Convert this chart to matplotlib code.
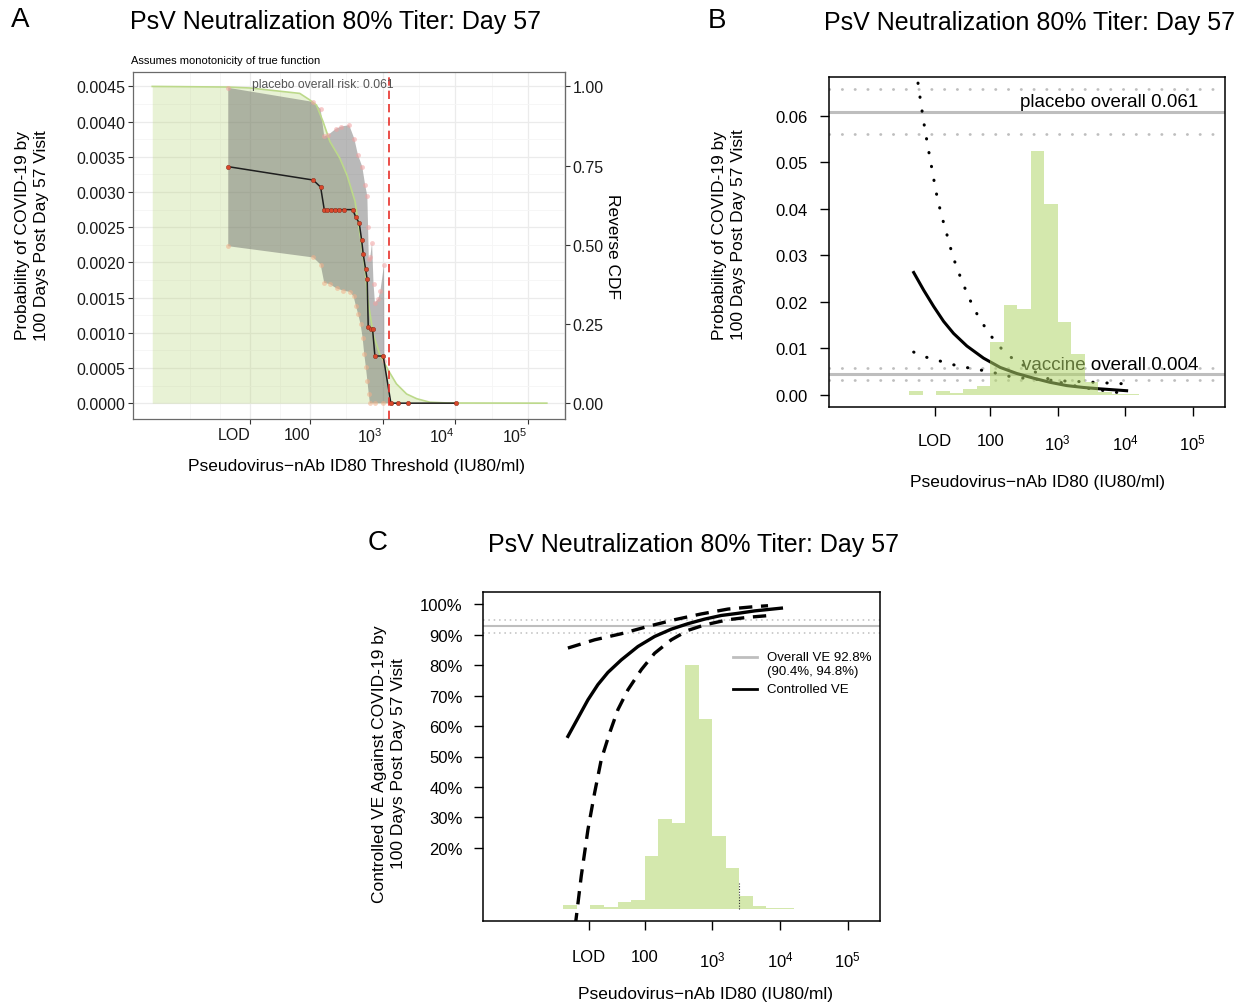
import numpy as np
import matplotlib
matplotlib.use('Agg')
import matplotlib.pyplot as plt

plt.rcParams['font.family'] = ['Liberation Sans', 'DejaVu Sans']
plt.rcParams['mathtext.fontset'] = 'custom'
plt.rcParams['mathtext.rm'] = 'Liberation Sans'
plt.rcParams['mathtext.it'] = 'Liberation Sans:italic'

# x values are log10 of the titer
lod = 1.177
tick_pos = [lod, 2, 3, 4, 5]
tick_lab = ['LOD', '100', r'$\mathregular{10^3}$', r'$\mathregular{10^4}$', r'$\mathregular{10^5}$']

# panel A: threshold risk curve
a_x = [0.876, 2.045, 2.147, 2.197, 2.238, 2.284, 2.344, 2.403, 2.468, 2.587, 2.633, 2.678,
       2.711, 2.733, 2.766, 2.788, 2.802, 2.835, 2.862, 2.894, 3.008, 3.114, 3.206, 3.344, 4.008]
a_risk = [0.00336, 0.00317, 0.00307, 0.00275, 0.00275, 0.00275, 0.00275, 0.00275, 0.00275,
          0.00275, 0.00264, 0.00256, 0.00232, 0.00212, 0.00190, 0.00176, 0.00108, 0.00105,
          0.00105, 0.00067, 0.00067, 0.0, 0.0, 0.0, 0.0]
a_up_x = [0.876, 2.045, 2.147, 2.197, 2.25, 2.36, 2.43, 2.54, 2.61, 2.66, 2.72, 2.76, 2.79,
          2.80, 2.81, 2.83, 2.855, 2.875, 2.894, 2.94, 2.97, 3.02, 3.025, 3.114]
a_up = [0.00448, 0.00428, 0.00418, 0.00379, 0.00381, 0.0039, 0.00393, 0.00395, 0.00376,
        0.00353, 0.00336, 0.0031, 0.00294, 0.0025, 0.00205, 0.00207, 0.00228, 0.0017,
        0.00143, 0.00148, 0.0016, 0.00197, 0.0006, 0.0]
a_lo_x = [0.876, 2.045, 2.147, 2.197, 2.275, 2.367, 2.458, 2.55, 2.60, 2.633, 2.665, 2.697,
          2.725, 2.747, 2.77, 2.79, 2.81, 2.825, 2.9, 3.0, 3.114]
a_lo = [0.00223, 0.00207, 0.00197, 0.00171, 0.00169, 0.00163, 0.0016, 0.00158, 0.00152,
        0.00138, 0.00126, 0.00112, 0.00093, 0.0007, 0.00051, 0.00032, 0.00013, 0.0, 0.0,
        0.0, 0.0]
cdf_x = [-0.17, 0.876, 1.18, 1.86, 2.0, 2.09, 2.18, 2.275, 2.41, 2.51, 2.62, 2.69, 2.757,
         2.80, 2.87, 2.96, 3.08, 3.19, 3.33, 3.47, 3.65, 3.9, 5.26]
cdf_y = [1.0, 0.998, 0.995, 0.978, 0.957, 0.941, 0.889, 0.826, 0.774, 0.72, 0.638, 0.532,
         0.428, 0.323, 0.218, 0.155, 0.103, 0.061, 0.029, 0.014, 0.003, 0.0005, 0.0]
cdf_scale = 0.0045
a_cut = 3.09

# histogram of the vaccine marker (shares of the tallest bar)
hist_edges = [0.8, 1.0, 1.2, 1.4, 1.6, 1.8, 2.0, 2.2, 2.4, 2.6, 2.8, 3.0, 3.2, 3.4, 3.6,
              3.8, 4.0, 4.2]
hist_share = [0.016, 0.0, 0.016, 0.008, 0.026, 0.037, 0.217, 0.367, 0.352, 1.0, 0.78, 0.30,
              0.167, 0.052, 0.012, 0.005, 0.004]

# panel B: marginalized risk
b_fit_x = [0.867, 1.015, 1.163, 1.31, 1.458, 1.655, 1.901, 2.148, 2.394, 2.64, 2.887, 3.133,
           3.379, 3.626, 4.02]
b_fit = [0.0263, 0.0225, 0.019, 0.0158, 0.0132, 0.0105, 0.0079, 0.0059, 0.0046, 0.0036,
         0.0027, 0.002, 0.0016, 0.0013, 0.0009]
b_ci1_x = [0.867, 0.926, 0.975, 1.025, 1.079, 1.138, 1.197, 1.271, 1.36, 1.448, 1.557, 1.68,
           1.828, 1.926, 2.015, 2.163, 2.296, 2.429, 2.63, 2.88, 3.14, 3.4, 3.65, 3.94]
b_ci1 = [0.076, 0.0675, 0.0625, 0.0578, 0.0532, 0.0485, 0.0437, 0.039, 0.0344, 0.0297,
         0.0254, 0.021, 0.0167, 0.0145, 0.0126, 0.010, 0.0082, 0.0069, 0.0052, 0.0033,
         0.0023, 0.0015, 0.001, 0.0004]
b_ci2_x = [0.867, 1.025, 1.187, 1.36, 1.507, 1.68, 1.83, 2.0, 2.15, 2.34, 2.64, 2.84, 3.08,
           3.43, 3.67, 3.96]
b_ci2 = [0.0092, 0.0082, 0.0076, 0.0068, 0.0063, 0.0058, 0.0054, 0.005, 0.0044, 0.0038,
         0.0034, 0.0032, 0.003, 0.0028, 0.0026, 0.0024]
placebo = [0.0607, 0.0657, 0.0560]   # estimate, upper, lower
vaccine = [0.0045, 0.0058, 0.0031]

# panel C: controlled VE
c_fit_x = [0.867, 1.015, 1.163, 1.31, 1.458, 1.655, 1.901, 2.148, 2.394, 2.64, 2.887, 3.133,
           3.379, 3.626, 4.02]
c_fit = [0.566, 0.626, 0.686, 0.736, 0.776, 0.817, 0.861, 0.894, 0.918, 0.936, 0.951, 0.963,
         0.970, 0.978, 0.987]
c_hi_x = [0.867, 1.261, 1.655, 2.049, 2.443, 2.837, 3.232, 3.626, 3.823]
c_hi = [0.856, 0.883, 0.903, 0.927, 0.949, 0.968, 0.984, 0.992, 0.995]
c_lo_x = [0.975, 1.064, 1.163, 1.261, 1.36, 1.483, 1.606, 1.754, 1.951, 2.148, 2.394, 2.64,
          2.887, 3.232, 3.527, 3.798]
c_lo = [-0.057, 0.107, 0.26, 0.38, 0.49, 0.577, 0.654, 0.719, 0.785, 0.839, 0.883, 0.914,
        0.932, 0.949, 0.957, 0.962]
overall_ve = [0.928, 0.904, 0.948]
c_mark = 3.4

W, H = 1248, 1004
fig = plt.figure(figsize=(W / 100, H / 100), dpi=100)


def box(l, t, r, b):
    return [l / W, 1 - b / H, (r - l) / W, (b - t) / H]


def ftext(x, y, s, **kw):
    fig.text(x / W, 1 - y / H, s, va='center', **kw)


dots = (0, (0.1, 4.5))
grey = '#bebebe'
hist_col = '#b2d66a'

# ---------------- panel A ----------------
ax = fig.add_axes(box(133, 73, 565, 420))
ax.set_xlim(-0.435, 5.51)
ax.set_ylim(-0.000225, 0.004705)
ax.fill_between(cdf_x, 0, np.array(cdf_y) * cdf_scale, color='#b6d476', alpha=0.3, lw=0, zorder=1)
poly_x = list(a_up_x) + list(a_lo_x[::-1])
poly_y = list(a_up) + list(a_lo[::-1])
ax.fill(poly_x, poly_y, color='#5a5a5a', alpha=0.42, lw=0, zorder=2)
ax.plot(cdf_x, np.array(cdf_y) * cdf_scale, color='#bcd98a', lw=1.2, zorder=3)
ax.plot(a_up_x, a_up, 'o', color='#f2a0a0', alpha=0.55, ms=3.5, mec='none', zorder=3)
ax.plot(a_lo_x, a_lo, 'o', color='#f2b08a', alpha=0.55, ms=3.5, mec='none', zorder=3)
ax.plot(a_x, a_risk, color='#1e1e1e', lw=1.1, zorder=4)
ax.plot(a_x, a_risk, 'o', color='#d9472b', ms=3.2, mec='#7a2a1a', mew=0.3, zorder=5)
ax.axvline(a_cut, color='#e8302a', lw=1.2, ls=(0, (5, 3)), zorder=6)
ax.text(2.18, 0.00454, 'placebo overall risk: 0.061', ha='center', va='center',
        fontsize=8.7, color='#555555', zorder=7)

ax.set_xticks(tick_pos)
ax.set_xticklabels(tick_lab)
for lab in ax.get_xticklabels():
    lab.set_ha('right')
mids = [tick_pos[0] - (tick_pos[1] - tick_pos[0])]
for i in range(len(tick_pos) - 1):
    mids.append((tick_pos[i] + tick_pos[i + 1]) / 2)
mids.append(tick_pos[0] - (tick_pos[1] - tick_pos[0]) / 2)
mids.append(5.5)
ax.set_xticks(mids, minor=True)
yt = np.arange(0, 0.00451, 0.0005)
ax.set_yticks(yt)
ax.set_yticklabels(['%.4f' % v for v in yt])
ax.set_yticks(yt[:-1] + 0.00025, minor=True)
ax.grid(which='major', color='#ebebeb', lw=0.9, zorder=0)
ax.grid(which='minor', color='#f5f5f5', lw=0.6, zorder=0)
ax.set_axisbelow(True)
ax.tick_params(which='minor', length=0)
ax.tick_params(which='major', length=3.5, width=0.8, color='#333333', labelsize=11.5,
               labelcolor='#1a1a1a', pad=2)
for s in ax.spines.values():
    s.set_color('#6a6a6a')
    s.set_linewidth(0.9)
sec = ax.secondary_yaxis('right', functions=(lambda v: v / cdf_scale, lambda v: v * cdf_scale))
sec.set_yticks([0, 0.25, 0.5, 0.75, 1.0])
sec.set_yticklabels(['0.00', '0.25', '0.50', '0.75', '1.00'])
sec.tick_params(length=3.5, width=0.8, color='#333333', labelsize=11.5, labelcolor='#1a1a1a', pad=2)
sec.spines['right'].set_color('#6a6a6a')

ftext(20, 20, 'A', fontsize=20, ha='center')
ftext(336, 22, 'PsV Neutralization 80% Titer: Day 57', fontsize=18, ha='center')
ftext(131, 61, 'Assumes monotonicity of true function', fontsize=8, ha='left')
ftext(356, 466, 'Pseudovirus\u2212nAb ID80 Threshold (IU80/ml)', fontsize=12.5, ha='center')
ftext(32, 236, 'Probability of COVID-19 by\n100 Days Post Day 57 Visit', fontsize=12.5,
      ha='center', rotation=90, linespacing=1.4)
ftext(612, 246, 'Reverse CDF', fontsize=12.5, ha='center', rotation=270)

# ---------------- panel B ----------------
bx = fig.add_axes(box(829, 78, 1225, 408))
bx.set_xlim(-0.387, 5.477)
bx.set_ylim(-0.0026, 0.0683)
for lvl in [placebo, vaccine]:
    bx.axhline(lvl[0], color=grey, lw=2.2, zorder=1)
    bx.axhline(lvl[1], color=grey, lw=2, ls=dots, dash_capstyle='round', zorder=1)
    bx.axhline(lvl[2], color=grey, lw=2, ls=dots, dash_capstyle='round', zorder=1)
bx.text(5.08, 0.0612, 'placebo overall 0.061', ha='right', va='bottom', fontsize=13.5, zorder=2)
bx.text(5.08, 0.0047, 'vaccine overall 0.004', ha='right', va='bottom', fontsize=13.5, zorder=2)
bx.plot(b_fit_x, b_fit, color='black', lw=2.2, zorder=3)
bx.plot(b_ci1_x, b_ci1, color='black', lw=2.2, ls=dots, dash_capstyle='round', zorder=3)
bx.plot(b_ci2_x, b_ci2, color='black', lw=2.2, ls=dots, dash_capstyle='round', zorder=3)
bx.bar(hist_edges[:-1], np.array(hist_share) * 0.0525, width=np.diff(hist_edges), align='edge',
       color=hist_col, alpha=0.55, lw=0, zorder=4)
bx.set_xticks(tick_pos)
bx.set_xticklabels(tick_lab)
bx.set_yticks([0, 0.01, 0.02, 0.03, 0.04, 0.05, 0.06])
bx.set_yticklabels(['0.00', '0.01', '0.02', '0.03', '0.04', '0.05', '0.06'])
bx.tick_params(axis='x', length=6.5, width=1, labelsize=12, pad=12)
bx.tick_params(axis='y', length=6.5, width=1, labelsize=12, pad=9)
for s in bx.spines.values():
    s.set_linewidth(1.1)

ftext(717, 21, 'B', fontsize=20, ha='center')
ftext(1030, 23, 'PsV Neutralization 80% Titer: Day 57', fontsize=18, ha='center')
ftext(1038, 483, 'Pseudovirus\u2212nAb ID80 (IU80/ml)', fontsize=12.5, ha='center')
ftext(729, 235, 'Probability of COVID-19 by\n100 Days Post Day 57 Visit', fontsize=12.5,
      ha='center', rotation=90, linespacing=1.4)

# ---------------- panel C ----------------
cx = fig.add_axes(box(483, 593, 880, 922))
cx.set_xlim(-0.387, 5.477)
cx.set_ylim(-0.04, 1.04)
cx.axhline(overall_ve[0], color=grey, lw=1.5, zorder=1)
cx.axhline(overall_ve[1], color=grey, lw=1.1, ls=(0, (1, 2.5)), zorder=1)
cx.axhline(overall_ve[2], color=grey, lw=1.1, ls=(0, (1, 2.5)), zorder=1)
cx.plot(c_fit_x, c_fit, color='black', lw=2.4, zorder=3)
cx.plot(c_hi_x, c_hi, color='black', lw=2.4, ls=(0, (4, 2.6)), zorder=3)
cx.plot(c_lo_x, c_lo, color='black', lw=2.4, ls=(0, (4, 2.6)), zorder=3)
cx.bar(hist_edges[:-1], np.array(hist_share) * 0.80, width=np.diff(hist_edges), align='edge',
       color=hist_col, alpha=0.55, lw=0, zorder=4)
cx.plot([c_mark, c_mark], [0, 0.085], color='#333333', lw=0.8, ls=(0, (1, 1.5)), zorder=5)
cx.plot([0.63, 0.69], [0.8024, 0.8024], color=grey, lw=2, transform=cx.transAxes)
cx.plot([0.63, 0.69], [0.7052, 0.7052], color='black', lw=2, transform=cx.transAxes)
cx.text(0.715, 0.8024, 'Overall VE 92.8%', transform=cx.transAxes, va='center', fontsize=9.5)
cx.text(0.715, 0.7599, '(90.4%, 94.8%)', transform=cx.transAxes, va='center', fontsize=9.5)
cx.text(0.715, 0.7052, 'Controlled VE', transform=cx.transAxes, va='center', fontsize=9.5)
cx.set_xticks(tick_pos)
cx.set_xticklabels(tick_lab)
ve_ticks = [0.2, 0.3, 0.4, 0.5, 0.6, 0.7, 0.8, 0.9, 1.0]
cx.set_yticks(ve_ticks)
cx.set_yticklabels(['%d%%' % round(v * 100) for v in ve_ticks])
cx.tick_params(axis='x', length=6.5, width=1, labelsize=12, pad=14)
cx.tick_params(axis='y', length=6.5, width=1, labelsize=12, pad=8)
for s in cx.spines.values():
    s.set_linewidth(1.1)

ftext(378, 543, 'C', fontsize=20, ha='center')
ftext(694, 545, 'PsV Neutralization 80% Titer: Day 57', fontsize=18, ha='center')
ftext(705, 995, 'Pseudovirus\u2212nAb ID80 (IU80/ml)', fontsize=12.5, ha='center')
ftext(389, 764, 'Controlled VE Against COVID-19 by\n100 Days Post Day 57 Visit', fontsize=12.5,
      ha='center', rotation=90, linespacing=1.4)

fig.savefig('out.png', dpi=100)
